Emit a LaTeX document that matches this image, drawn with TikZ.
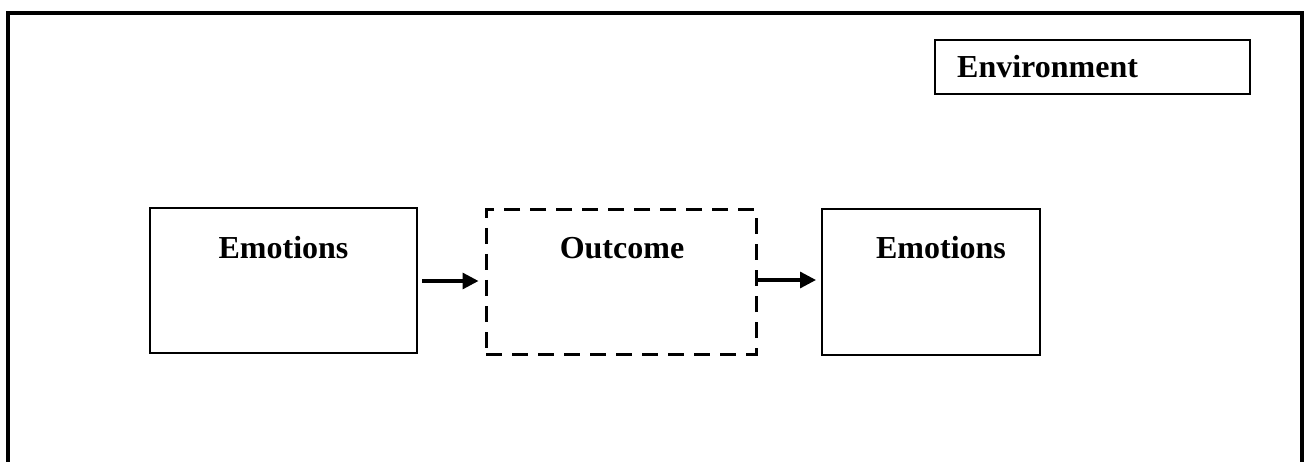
\documentclass[tikz,border=0pt]{standalone}
\usepackage{fontspec}
\setmainfont{Liberation Serif}
\usetikzlibrary{arrows.meta}
\begin{document}
\begin{tikzpicture}[x=1pt,y=-1pt,
  box/.style={draw=black,line width=2pt,rectangle,inner sep=0pt},
  dashbox/.style={draw=black,line width=3pt,rectangle,inner sep=0pt,dash pattern=on 16pt off 10pt},
  lbl/.style={font=\fontsize{32}{38}\selectfont\bfseries,inner sep=0pt,anchor=base},
  flow/.style={line width=3.2pt,-{Triangle[length=16pt,width=16pt]}}]
\useasboundingbox (0,0) rectangle (1306,462);
\fill[white] (0,0) rectangle (1306,462);
% outer frame, open at the bottom
\draw[line width=4pt] (8,462) -- (8,13) -- (1302,13) -- (1302,462);
% environment box
\node[box,minimum width=315pt,minimum height=54pt] (env) at (1092.5,67) {};
\node[lbl,anchor=base west] (envt) at (957,78) {Environment};
% process boxes
\node[box,minimum width=267pt,minimum height=145pt] (e1) at (283.5,280.5) {};
\node[dashbox,minimum width=270pt,minimum height=144pt] (out) at (621,282) {};
\node[box,minimum width=218pt,minimum height=146pt] (e2) at (931,282) {};
\node[lbl] (e1t) at (283.5,259) {Emotions};
\node[lbl] (outt) at (622,259) {Outcome};
\node[lbl] (e2t) at (941,259) {Emotions};
% connectors
\coordinate (a1s) at (e1.east |- 0,281);
\coordinate (a1e) at (out.west |- 0,281);
\coordinate (a2s) at (out.east |- 0,280);
\coordinate (a2e) at (e2.west |- 0,280);
\draw[flow,shorten <=4pt,shorten >=6pt] (a1s) -- (a1e);
\draw[flow,shorten >=5pt] (a2s) -- (a2e);
\end{tikzpicture}
\end{document}
